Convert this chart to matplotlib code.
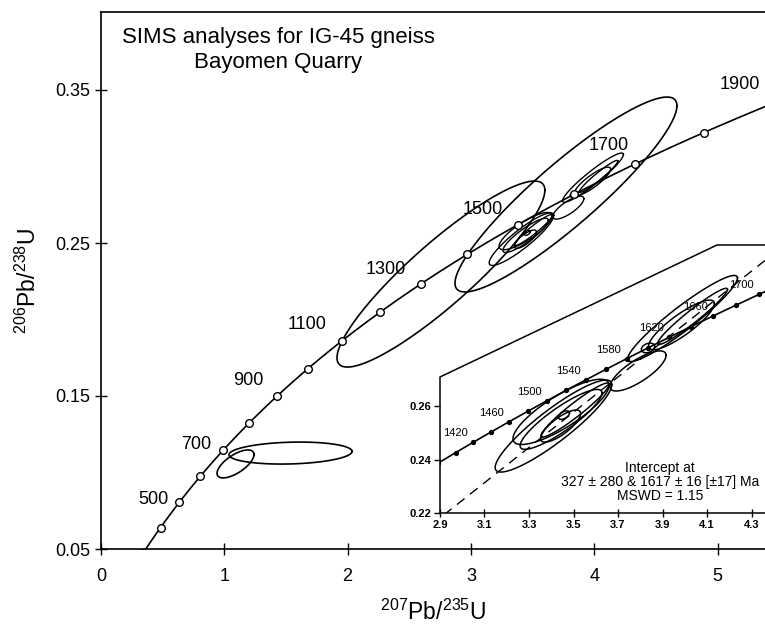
import numpy as np
import matplotlib
matplotlib.use('Agg')
import matplotlib.pyplot as plt
from matplotlib.patches import Polygon

plt.rcParams['font.family'] = ['Liberation Sans', 'DejaVu Sans']
plt.rcParams['mathtext.default'] = 'regular'

# decay constants, per Ma
L238 = 1.55125e-4
L235 = 9.8485e-4

# concordia ages
main_ages = [300, 400, 500, 600, 700, 800, 900, 1000, 1100, 1200, 1300, 1400,
             1500, 1600, 1700, 1800, 1900]
main_labels = [500, 700, 900, 1100, 1300, 1500, 1700, 1900]
inset_ages = [1380, 1400, 1420, 1440, 1460, 1480, 1500, 1520, 1540, 1560, 1580,
              1600, 1620, 1640, 1660, 1680, 1700, 1720, 1740, 1760]
inset_labels = [1420, 1460, 1500, 1540, 1580, 1620, 1660, 1700]

# intercepts (Ma)
lower_int = 327
upper_int = 1617

# error ellipses: centre (207/235, 206/238), half extents, correlation
# analyses shown only in the main diagram
wide_x = [2.757, 3.771, 1.091, 1.537]
wide_y = [0.2297, 0.2817, 0.1056, 0.1127]
wide_hx = [0.843, 0.900, 0.150, 0.499]
wide_hy = [0.0608, 0.0637, 0.00915, 0.0072]
wide_rho = [0.90, 0.91, 0.67, 0.15]

# analyses used for the intercept (main diagram and inset)
clus_x = [3.410, 3.444, 3.444, 3.442, 3.457, 3.507, 3.790, 3.990, 3.985, 4.035, 3.835]
clus_y = [0.2525, 0.2578, 0.2550, 0.2525, 0.2566, 0.2585, 0.2731, 0.2927, 0.2903, 0.2935, 0.2817]
clus_hx = [0.262, 0.216, 0.184, 0.090, 0.025, 0.153, 0.126, 0.247, 0.148, 0.157, 0.030]
clus_hy = [0.0172, 0.0122, 0.0112, 0.0060, 0.0016, 0.0101, 0.0075, 0.0161, 0.0093, 0.0105, 0.0018]
clus_rho = [0.90, 0.82, 0.88, 0.78, 0.50, 0.95, 0.78, 0.94, 0.86, 0.96, 0.30]

# label offsets in pixels (left, up) for the main age labels
main_offsets = [(-26, 3), (-27, 6), (-29, 16), (-35, 16), (-36, 14), (-35, 15), (-27, 18), (-39, 17)]


def concordia(t):
    t = np.asarray(t, dtype=float)
    return np.exp(L235 * t) - 1, np.exp(L238 * t) - 1


def ellipse(ax, cx, cy, hx, hy, rho, lw=1.2):
    th = np.linspace(0, 2 * np.pi, 200)
    x = cx + hx * np.cos(th)
    y = cy + hy * (rho * np.cos(th) + np.sqrt(1 - rho ** 2) * np.sin(th))
    return ax.plot(x, y, color='black', lw=lw)[0]


fig = plt.figure(figsize=(7.65, 6.27), dpi=100)

# ---- main diagram ----
ax = fig.add_axes([101 / 765, 78 / 627, 664 / 765, 537 / 627])
ax.set_xlim(0, 664 / 123.3)
ax.set_ylim(0.05, 0.05 + 537 / 1530)

tt = np.linspace(200, 2100, 600)
cx_, cy_ = concordia(tt)
ax.plot(cx_, cy_, color='black', lw=1.2, zorder=3)
mx, my = concordia(main_ages)
ax.plot(mx, my, 'o', ms=5.5, mfc='white', mec='black', mew=1.0, zorder=4)
for age, (dx, dy) in zip(main_labels, main_offsets):
    px, py = concordia(age)
    ax.annotate(str(age), (px, py), xytext=(dx, dy), textcoords='offset pixels',
                ha='center', va='center', fontsize=13, annotation_clip=False)

for i in range(len(wide_x)):
    ellipse(ax, wide_x[i], wide_y[i], wide_hx[i], wide_hy[i], wide_rho[i])
for i in range(len(clus_x)):
    ellipse(ax, clus_x[i], clus_y[i], clus_hx[i], clus_hy[i], clus_rho[i], lw=1.0)

ax.set_xticks([0, 1, 2, 3, 4, 5])
ax.set_yticks([0.05, 0.15, 0.25, 0.35])
ax.set_yticklabels(['0.05', '0.15', '0.25', '0.35'])
ax.tick_params(direction='inout', length=9, width=1, labelsize=13)
ax.tick_params(axis='x', pad=9)
ax.tick_params(axis='y', pad=3)
ax.spines['right'].set_visible(False)
for s in ['left', 'bottom', 'top']:
    ax.spines[s].set_linewidth(1.2)

ax.set_xlabel(r'$^{207}Pb/^{235}U$', fontsize=16.5)
ax.set_ylabel(r'$^{206}Pb/^{238}U$', fontsize=16.5)
ax.xaxis.set_label_coords(0.5, -0.095)
ax.yaxis.set_label_coords(-0.09, 0.5)

ax.text(0.2666, 0.929, 'SIMS analyses for IG-45 gneiss\nBayomen Quarry',
        transform=ax.transAxes, ha='center', va='center', fontsize=16, linespacing=1.25)

# ---- inset ----
ins = fig.add_axes([440 / 765, 114 / 627, 325 / 765, 268 / 627])
ins.set_xlim(2.9, 2.9 + 325 / 222.5)
ins.set_ylim(0.22, 0.22 + 268 / 2675)
ins.patch.set_visible(False)
corner_y = (513 - 377) / 268
corner_x = (717 - 440) / 325
bg = Polygon([(0, 0), (0, corner_y), (corner_x, 1), (1, 1), (1, 0)], closed=True,
             transform=ins.transAxes, fc='white', ec='none', zorder=0)
ins.add_patch(bg)
ins.plot([0, 0, corner_x, 1], [0, corner_y, 1, 1], transform=ins.transAxes,
         color='black', lw=1.1, clip_on=False, zorder=5)

arts = []
arts.append(ins.plot(cx_, cy_, color='black', lw=1.2, zorder=3)[0])
ix, iy = concordia(inset_ages)
arts.append(ins.plot(ix, iy, 'o', ms=2.8, color='black', zorder=4)[0])
for age in inset_labels:
    px, py = concordia(age)
    arts.append(ins.annotate(str(age), (px, py), xytext=(-18, 9), textcoords='offset pixels',
                             ha='center', va='center', fontsize=8))

# discordia through the two intercepts
x1, y1 = concordia(lower_int)
x2, y2 = concordia(upper_int)
slope = (y2 - y1) / (x2 - x1)
dl_x = np.array([2.8, 4.5])
arts.append(ins.plot(dl_x, y1 + slope * (dl_x - x1), color='black', lw=1.0,
                     dashes=(7, 5), zorder=2)[0])

for i in range(len(clus_x)):
    arts.append(ellipse(ins, clus_x[i], clus_y[i], clus_hx[i], clus_hy[i], clus_rho[i], lw=1.1))
for a in arts:
    a.set_clip_path(bg)

ins.text(0.677, 0.1157, 'Intercept at\n%d \u00b1 280 & %d \u00b1 16 [\u00b117] Ma\nMSWD = 1.15'
         % (lower_int, upper_int), transform=ins.transAxes, ha='center', va='center',
         fontsize=10, linespacing=1.0)

ins.set_xticks([2.9, 3.1, 3.3, 3.5, 3.7, 3.9, 4.1, 4.3])
ins.set_yticks([0.22, 0.24, 0.26])
ins.set_xticklabels(['2.9', '3.1', '3.3', '3.5', '3.7', '3.9', '4.1', '4.3'])
ins.set_yticklabels(['0.22', '0.24', '0.26'])
for s in ['left', 'top', 'right']:
    ins.spines[s].set_visible(False)
ins.spines['bottom'].set_linewidth(1.1)
ins.tick_params(axis='x', direction='inout', length=6, width=1, labelsize=8, pad=2)
ins.tick_params(axis='y', direction='out', length=4, width=1, labelsize=8, pad=2)
for lab in ins.get_xticklabels() + ins.get_yticklabels():
    lab.set_fontweight('bold')

fig.savefig('out.png', dpi=100)
